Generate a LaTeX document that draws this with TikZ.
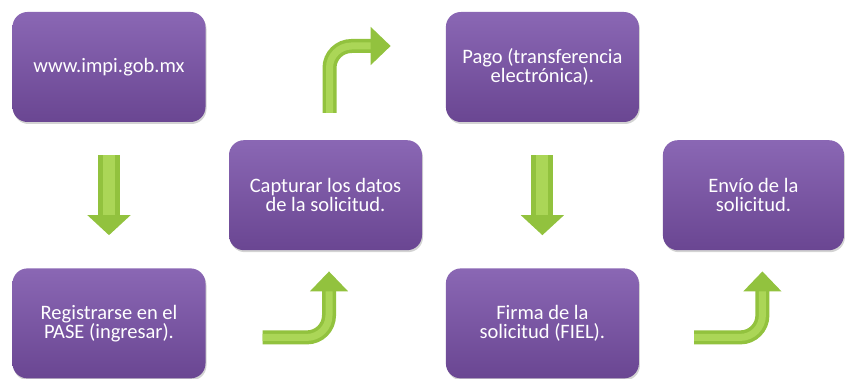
\documentclass[tikz,border=0pt]{standalone}
\usepackage{fontspec}
\setmainfont{Carlito}
\usepackage{xcolor}
\usepackage{tikz}
\usetikzlibrary{arrows.meta,shadows,positioning,calc}

\definecolor{moradoA}{HTML}{8A67B4}
\definecolor{moradoB}{HTML}{6A4692}
\definecolor{verde}{HTML}{92C23E}
\definecolor{verdeclaro}{HTML}{ABD657}

\begin{document}
\begin{tikzpicture}[x=1pt, y=1pt,
  paso/.style={rectangle, rounded corners=15pt, minimum width=193pt, minimum height=110pt,
    top color=moradoA, bottom color=moradoB, text=white, align=center,
    font=\fontsize{20.5}{19.5}\selectfont,
    drop shadow={shadow xshift=1pt, shadow yshift=-2pt, opacity=.35}},
  bajada/.style={draw=verde, line width=22pt, -{Triangle[length=20pt,width=42pt]},
    postaction={draw=verdeclaro, line width=12pt, -, shorten >=20pt}},
  curva/.style={draw=verde, line width=14pt, rounded corners=22pt, -{Triangle[length=20pt,width=37pt]},
    postaction={draw=verdeclaro, line width=7pt, -, shorten >=20pt}}]

\useasboundingbox (0,0) rectangle (846,379);

\node[paso] (web)   at (109,312)        {www.impi.gob.mx};
\node[paso] (reg)   [below=146pt of web] {Registrarse en el\\PASE (ingresar).};
\node[paso] (capt)  at ($(web)!0.5!(reg)+(216.5,0)$) {Capturar los datos\\de la solicitud.};
\node[paso] (pago)  [right=240pt of web] {Pago (transferencia\\electrónica).};
\node[paso] (firma) [right=240pt of reg] {Firma de la\\solicitud (FIEL).};
\node[paso, minimum width=181pt] (envio) at ($(pago)!0.5!(firma)+(211,0)$) {Envío de la\\solicitud.};

% flechas
\path[bajada] ([yshift=-33pt]web.south) -- ([yshift=33pt]reg.north);
\path[bajada] ([yshift=-33pt]pago.south) -- ([yshift=33pt]firma.north);

\path[curva] ([shift={(57pt,-14pt)}]reg.east) -| ([shift={(3.5pt,-21pt)}]capt.south);
\path[curva] ([shift={(4pt,27pt)}]capt.north) |- ([shift={(-55pt,21pt)}]pago.west);
\path[curva] ([shift={(55pt,-14pt)}]firma.east) -| ([shift={(9pt,-21pt)}]envio.south);

\end{tikzpicture}
\end{document}
